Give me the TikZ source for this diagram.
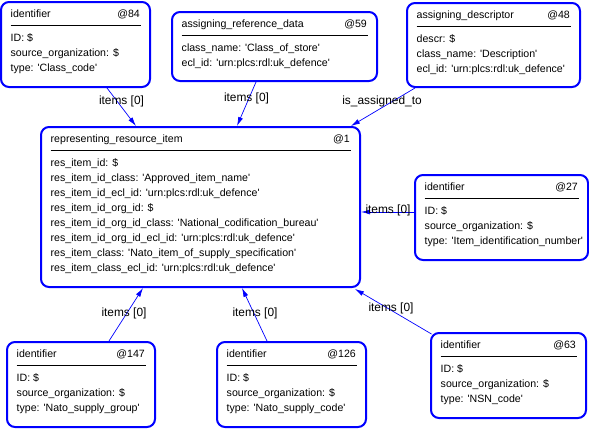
\documentclass[tikz,border=0pt]{standalone}
\usepackage{fontspec}
\newfontfamily\arial{Liberation Sans}
\usetikzlibrary{arrows.meta,fit,calc}
\tikzset{
  box/.style={draw=blue, line width=2pt, rounded corners=8pt, inner sep=0pt},
  txt/.style={inner sep=0pt, font={\arial\fontsize{10.6}{15}\selectfont}},
  rulel/.style={draw=black, line width=1pt},
  conn/.style={draw=blue, line width=0.7pt, -{Latex[length=9pt,width=5pt]}},
  lbl/.style={inner sep=0pt, font={\arial\fontsize{11.9}{14}\selectfont}},
}
\newcommand\uboxtext[4]{%
  \node[txt, anchor=base west] (#1t) at ([xshift=10.5pt,yshift=-16pt]#1.north west) {#2};
  \node[txt, anchor=base east] (#1i) at ([xshift=-11pt,yshift=-16pt]#1.north east) {#3};
  \draw[rulel] ([xshift=10.5pt,yshift=-24.5pt]#1.north west) -- ([xshift=-10.5pt,yshift=-24.5pt]#1.north east);
  \foreach \l [count=\i, evaluate=\i as \dy using 25.5+15*\i] in {#4}
    \node[txt, anchor=base west] (#1l\i) at ([xshift=10.5pt,yshift=-\dy pt]#1.north west) {\l};
}
\begin{document}
\begin{tikzpicture}[x=1pt,y=-1pt]
\useasboundingbox (0,0) rectangle (589,429);
% boxes
\node[box, fit={(1,2) (150,87)}] (n84) {};
\node[box, fit={(172,12) (377,81)}] (n59) {};
\node[box, fit={(407,3) (580,87)}] (n48) {};
\node[box, fit={(41,127) (360,287)}] (main) {};
\node[box, fit={(415,175) (588,260)}] (n27) {};
\node[box, fit={(7,342) (155,427)}] (n147) {};
\node[box, fit={(217,342) (366,427)}] (n126) {};
\node[box, fit={(431,333) (586,418)}] (n63) {};
% texts
\uboxtext{n84}{identifier}{@84}{ID: \$, source\_organization: \$, type: 'Class\_code'}
\uboxtext{n59}{assigning\_reference\_data}{@59}{class\_name: 'Class\_of\_store', ecl\_id: 'urn:plcs:rdl:uk\_defence'}
\uboxtext{n48}{assigning\_descriptor}{@48}{descr: \$, class\_name: 'Description', ecl\_id: 'urn:plcs:rdl:uk\_defence'}
\uboxtext{main}{representing\_resource\_item}{@1}{res\_item\_id: \$, res\_item\_id\_class: 'Approved\_item\_name', res\_item\_id\_ecl\_id: 'urn:plcs:rdl:uk\_defence', res\_item\_id\_org\_id: \$, res\_item\_id\_org\_id\_class: 'National\_codification\_bureau', res\_item\_id\_org\_id\_ecl\_id: 'urn:plcs:rdl:uk\_defence', res\_item\_class: 'Nato\_item\_of\_supply\_specification', res\_item\_class\_ecl\_id: 'urn:plcs:rdl:uk\_defence'}
\uboxtext{n27}{identifier}{@27}{ID: \$, source\_organization: \$, type: 'Item\_identification\_number'}
\uboxtext{n147}{identifier}{@147}{ID: \$, source\_organization: \$, type: 'Nato\_supply\_group'}
\uboxtext{n126}{identifier}{@126}{ID: \$, source\_organization: \$, type: 'Nato\_supply\_code'}
\uboxtext{n63}{identifier}{@63}{ID: \$, source\_organization: \$, type: 'NSN\_code'}
% connectors
\draw[conn] ([xshift=107pt]n84.south west) -- ([xshift=96pt]main.north west);
\draw[conn] ([xshift=85pt]n59.south west) -- ([xshift=197pt]main.north west);
\draw[conn] ([xshift=9pt]n48.south west) -- ([xshift=-10pt]main.north east);
\draw[conn] ([yshift=-38pt]n27.north west) -- ([yshift=-86pt]main.north east);
\draw[conn] ([xshift=103pt]n147.north west) -- ([xshift=103pt]main.south west);
\draw[conn] ([xshift=51pt]n126.north west) -- ([xshift=202pt]main.south west);
\draw[conn] ([xshift=1.5pt,yshift=-2pt]n63.north west) -- ([xshift=-6pt,yshift=-1pt]main.south east);
% labels
\node[lbl] (e1) at (121.5,101.5) {items [0]};
\node[lbl] (e2) at (246.5,98.5) {items [0]};
\node[lbl] (e3) at (382,101) {is\_assigned\_to};
\node[lbl] (e4) at (388,210) {items [0]};
\node[lbl] (e5) at (124,313) {items [0]};
\node[lbl] (e6) at (255,313) {items [0]};
\node[lbl] (e7) at (391,308) {items [0]};
\end{tikzpicture}
\end{document}
